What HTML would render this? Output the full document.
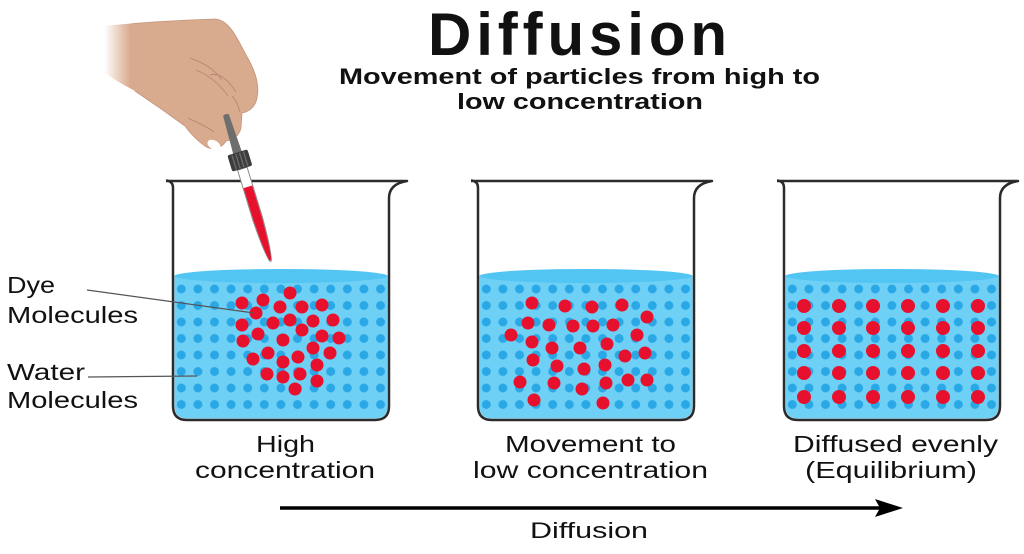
<!DOCTYPE html>
<html>
<head>
<meta charset="utf-8">
<style>
  html,body{margin:0;padding:0;background:#fff;}
  svg{display:block;}
  text{font-family:"Liberation Sans", sans-serif;fill:#111;}
</style>
</head>
<body>
<svg width="1024" height="554" viewBox="0 0 1024 554" xmlns="http://www.w3.org/2000/svg">
  <defs>
    <pattern id="dots" x="0" y="280.75" width="16.6" height="16.5" patternUnits="userSpaceOnUse">
      <circle cx="8.3" cy="8.25" r="4.5" fill="#2aa8e6"/>
    </pattern>
    <linearGradient id="skinfade" x1="104" y1="0" x2="130" y2="0" gradientUnits="userSpaceOnUse">
      <stop offset="0" stop-color="#d9ab8e" stop-opacity="0"/>
      <stop offset="1" stop-color="#d9ab8e" stop-opacity="1"/>
    </linearGradient>
    <clipPath id="waterclip">
      <path d="M1.5,276 L214.5,276 L214.5,406 Q214.5,418.5 202,418.5 L14,418.5 Q1.5,418.5 1.5,406 Z"/>
    </clipPath>
    <g id="water">
      <path d="M1.5,276 L214.5,276 L214.5,406 Q214.5,418.5 202,418.5 L14,418.5 Q1.5,418.5 1.5,406 Z" fill="#6fd0f6"/>
      <ellipse cx="108" cy="276" rx="106.5" ry="7" fill="#52c5f3"/>
      <rect x="0.7" y="280.75" width="215.8" height="132" fill="url(#dots)" clip-path="url(#waterclip)"/>
    </g>
    <path id="outline" d="M-7,180.5 Q0,181 0,188 L0,406 Q0,420 14,420 L202,420 Q216,420 216,406 L216,198 Q216,184 234,181 L-7,181" fill="none" stroke="#2b2b2b" stroke-width="2.5" stroke-linejoin="round"/>
  </defs>

  <!-- Title -->
  <text x="428" y="55" font-size="60" font-weight="700" textLength="299" lengthAdjust="spacing">Diffusion</text>
  <text x="339" y="84" font-size="22" font-weight="700" textLength="481" lengthAdjust="spacingAndGlyphs">Movement of particles from high to</text>
  <text x="457" y="109" font-size="22" font-weight="700" textLength="246" lengthAdjust="spacingAndGlyphs">low concentration</text>

  <!-- Hand -->
  <path d="M104,26 C140,22 190,20 215,19 C230,20 238,40 246,55 C255,70 260,85 257,98 C255,108 248,112 242,113 L241,128 C239,136 233,140 226,141 C222,148 212,151 205,146 C198,141 190,133 185,126 C170,115 150,101 135,91 C120,83 110,77 104,72 Z" fill="url(#skinfade)"/>
  <path d="M130,24 C160,21 190,20 215,19 C230,20 238,40 246,55 C255,70 260,85 257,98 C255,108 248,112 242,113 L241,128 C239,136 233,140 226,141 C222,148 212,151 205,146 C198,141 190,133 185,126 C170,115 150,101 135,91" fill="none" stroke="#c4937a" stroke-width="0.8"/>
  <path d="M190,58 C200,62 212,66 222,80 M196,70 C206,74 218,82 228,96 M210,75 C220,72 228,80 236,92 M232,96 C236,100 238,106 240,112 M188,118 C196,122 206,126 214,132" fill="none" stroke="#b9876d" stroke-width="0.9"/>
  <ellipse cx="214" cy="145" rx="7" ry="4.5" fill="#ffffff" transform="rotate(30 214 145)"/>

  <!-- Beaker 1 -->
  <g transform="translate(173,0)">
    <use href="#water"/>
    <g transform="translate(-173,0)" fill="#e8112d">
      <circle cx="290" cy="293" r="6.5"/><circle cx="242" cy="303" r="6.5"/><circle cx="263" cy="300" r="6.5"/>
      <circle cx="280" cy="307" r="6.5"/><circle cx="302" cy="307" r="6.5"/><circle cx="322" cy="305" r="6.5"/>
      <circle cx="256" cy="313" r="6.5"/><circle cx="242" cy="325" r="6.5"/><circle cx="273" cy="323" r="6.5"/>
      <circle cx="290" cy="320" r="6.5"/><circle cx="313" cy="321" r="6.5"/><circle cx="333" cy="320" r="6.5"/>
      <circle cx="258" cy="334" r="6.5"/><circle cx="302" cy="330" r="6.5"/><circle cx="322" cy="336" r="6.5"/>
      <circle cx="339" cy="338" r="6.5"/><circle cx="243" cy="341" r="6.5"/><circle cx="283" cy="340" r="6.5"/>
      <circle cx="313" cy="348" r="6.5"/><circle cx="330" cy="353" r="6.5"/><circle cx="253" cy="359" r="6.5"/>
      <circle cx="268" cy="353" r="6.5"/><circle cx="283" cy="362" r="6.5"/><circle cx="298" cy="357" r="6.5"/>
      <circle cx="317" cy="365" r="6.5"/><circle cx="267" cy="374" r="6.5"/><circle cx="283" cy="377" r="6.5"/>
      <circle cx="300" cy="374" r="6.5"/><circle cx="317" cy="381" r="6.5"/><circle cx="295" cy="389" r="6.5"/>
    </g>
    <use href="#outline"/>
  </g>

  <!-- Beaker 2 -->
  <g transform="translate(478,0)">
    <use href="#water"/>
    <g transform="translate(-478,0)" fill="#e8112d">
      <circle cx="532" cy="303" r="6.5"/><circle cx="565" cy="306" r="6.5"/><circle cx="592" cy="307" r="6.5"/>
      <circle cx="622" cy="305" r="6.5"/><circle cx="647" cy="317" r="6.5"/><circle cx="528" cy="323" r="6.5"/>
      <circle cx="549" cy="325" r="6.5"/><circle cx="573" cy="326" r="6.5"/><circle cx="593" cy="326" r="6.5"/>
      <circle cx="613" cy="325" r="6.5"/><circle cx="511" cy="335" r="6.5"/><circle cx="637" cy="335" r="6.5"/>
      <circle cx="532" cy="342" r="6.5"/><circle cx="552" cy="348" r="6.5"/><circle cx="580" cy="348" r="6.5"/>
      <circle cx="607" cy="344" r="6.5"/><circle cx="625" cy="356" r="6.5"/><circle cx="645" cy="353" r="6.5"/>
      <circle cx="533" cy="360" r="6.5"/><circle cx="557" cy="366" r="6.5"/><circle cx="584" cy="369" r="6.5"/>
      <circle cx="605" cy="365" r="6.5"/><circle cx="520" cy="382" r="6.5"/><circle cx="554" cy="383" r="6.5"/>
      <circle cx="582" cy="389" r="6.5"/><circle cx="606" cy="383" r="6.5"/><circle cx="628" cy="380" r="6.5"/>
      <circle cx="647" cy="380" r="6.5"/><circle cx="534" cy="400" r="6.5"/><circle cx="603" cy="403" r="6.5"/>
    </g>
    <use href="#outline"/>
  </g>

  <!-- Beaker 3 -->
  <g transform="translate(784,0)">
    <use href="#water"/>
    <g transform="translate(-784,0)" fill="#e8112d">
      <circle cx="804" cy="306" r="7"/><circle cx="839" cy="306" r="7"/><circle cx="873" cy="306" r="7"/><circle cx="908" cy="306" r="7"/><circle cx="943" cy="306" r="7"/><circle cx="978" cy="306" r="7"/>
      <circle cx="804" cy="328" r="7"/><circle cx="839" cy="328" r="7"/><circle cx="873" cy="328" r="7"/><circle cx="908" cy="328" r="7"/><circle cx="943" cy="328" r="7"/><circle cx="978" cy="328" r="7"/>
      <circle cx="804" cy="351" r="7"/><circle cx="839" cy="351" r="7"/><circle cx="873" cy="351" r="7"/><circle cx="908" cy="351" r="7"/><circle cx="943" cy="351" r="7"/><circle cx="978" cy="351" r="7"/>
      <circle cx="804" cy="373" r="7"/><circle cx="839" cy="373" r="7"/><circle cx="873" cy="373" r="7"/><circle cx="908" cy="373" r="7"/><circle cx="943" cy="373" r="7"/><circle cx="978" cy="373" r="7"/>
      <circle cx="804" cy="397" r="7"/><circle cx="839" cy="397" r="7"/><circle cx="873" cy="397" r="7"/><circle cx="908" cy="397" r="7"/><circle cx="943" cy="397" r="7"/><circle cx="978" cy="397" r="7"/>
    </g>
    <use href="#outline"/>
  </g>

  <!-- Dropper -->
  <g transform="translate(240,161) rotate(-17)">
    <path d="M-3,-48 Q0,-50 3,-48 L4.5,-8 L-4.5,-8 Z" fill="#6e6e6e"/>
    <path d="M-5,8 L5,8 L5,60 Q4,92 1,104 Q0,106 -1,104 Q-4,92 -5,60 Z" fill="#ffffff" stroke="#8a8a8a" stroke-width="1"/>
    <path d="M-4.5,27 L4.5,27 L4.5,60 Q3.5,92 1,103 Q0,105 -1,103 Q-3.5,92 -4.5,60 Z" fill="#e8112d"/>
    <rect x="-10.5" y="-9" width="21" height="17" rx="2" fill="#3d3d3d"/>
    <path d="M-6,-8 V7 M-2,-8 V7 M2,-8 V7 M6,-8 V7" stroke="#6a6a6a" stroke-width="1.4"/>
  </g>

  <!-- Side labels -->
  <text x="7" y="293" font-size="23" textLength="48" lengthAdjust="spacingAndGlyphs">Dye</text>
  <text x="7" y="323" font-size="23" textLength="131" lengthAdjust="spacingAndGlyphs">Molecules</text>
  <text x="7" y="380" font-size="23" textLength="78" lengthAdjust="spacingAndGlyphs">Water</text>
  <text x="7" y="408" font-size="23" textLength="131" lengthAdjust="spacingAndGlyphs">Molecules</text>
  <line x1="87" y1="290" x2="254" y2="313" stroke="#555" stroke-width="1.2"/>
  <line x1="88" y1="377" x2="197" y2="376" stroke="#555" stroke-width="1.2"/>

  <!-- Bottom labels -->
  <text x="256" y="452" font-size="23" textLength="59" lengthAdjust="spacingAndGlyphs">High</text>
  <text x="195" y="478" font-size="23" textLength="180" lengthAdjust="spacingAndGlyphs">concentration</text>
  <text x="505" y="452" font-size="23" textLength="171" lengthAdjust="spacingAndGlyphs">Movement to</text>
  <text x="473" y="478" font-size="23" textLength="235" lengthAdjust="spacingAndGlyphs">low concentration</text>
  <text x="793" y="452" font-size="23" textLength="205" lengthAdjust="spacingAndGlyphs">Diffused evenly</text>
  <text x="805" y="478" font-size="23" textLength="172" lengthAdjust="spacingAndGlyphs">(Equilibrium)</text>

  <!-- Arrow -->
  <line x1="280" y1="508" x2="882" y2="508" stroke="#000" stroke-width="3.5"/>
  <path d="M875,499 L903,508 L875,517 L880,508 Z" fill="#000"/>
  <text x="530" y="538" font-size="22" textLength="118" lengthAdjust="spacingAndGlyphs">Diffusion</text>
</svg>
</body>
</html>
